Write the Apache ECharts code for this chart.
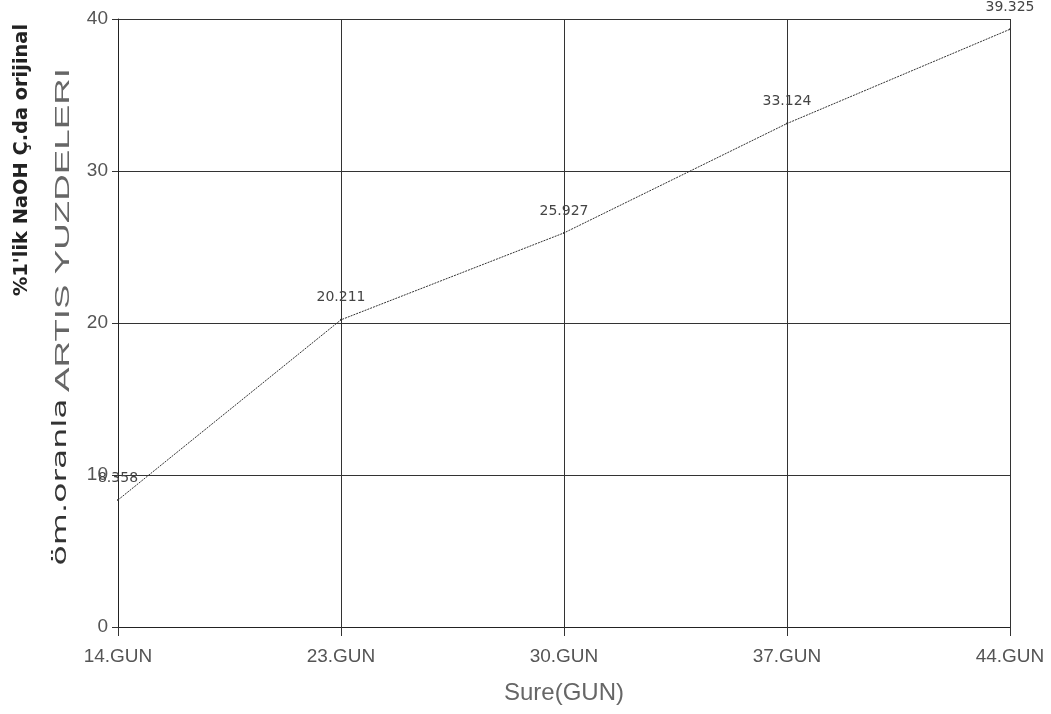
<!DOCTYPE html>
<html>
<head>
<meta charset="utf-8">
<script src="https://cdn.jsdelivr.net/npm/echarts@6/dist/echarts.min.js"></script>
<style>
  html, body { margin: 0; padding: 0; background: #fff; }
  #chart { width: 1051px; height: 714px; }
</style>
</head>
<body>
<div id="chart"></div>
<script>
// Days of treatment and the percentage increase measured on each day
var days = ['14.GUN', '23.GUN', '30.GUN', '37.GUN', '44.GUN'];
var increase = [8.358, 20.211, 25.927, 33.124, 39.325];
var yTicks = [0, 10, 20, 30, 40];

var chart = echarts.init(document.getElementById('chart'), null, { renderer: 'canvas' });

var tickFont = { fontFamily: 'Liberation Sans', fontSize: 19, color: '#555' };

chart.setOption({
  backgroundColor: '#fff',
  animation: false,
  grid: { left: 118, right: 41, top: 19, bottom: 87, containLabel: false },
  xAxis: {
    type: 'category',
    data: days,
    boundaryGap: false,
    axisLine: { show: true, lineStyle: { color: '#222', width: 1 } },
    axisTick: { show: true, length: 9, lineStyle: { color: '#333' } },
    axisLabel: Object.assign({ margin: 20 }, tickFont),
    splitLine: { show: true, lineStyle: { color: '#333', width: 1 } },
    name: 'Sure(GUN)',
    nameLocation: 'middle',
    nameGap: 54,
    nameTextStyle: { fontFamily: 'Liberation Sans', fontSize: 24, color: '#666' }
  },
  yAxis: {
    type: 'value',
    min: yTicks[0],
    max: yTicks[yTicks.length - 1],
    interval: yTicks[1] - yTicks[0],
    axisLine: { show: true, lineStyle: { color: '#222', width: 1 } },
    axisTick: { show: true, length: 6, lineStyle: { color: '#333' } },
    axisLabel: Object.assign({ margin: 10 }, tickFont),
    splitLine: { show: true, lineStyle: { color: '#333', width: 1 } }
  },
  series: [{
    type: 'line',
    data: increase,
    symbol: 'circle',
    symbolSize: 2,
    itemStyle: { color: '#333' },
    lineStyle: { color: '#333', width: 1, type: [2, 1] },
    label: {
      show: true,
      position: 'top',
      distance: 14,
      fontFamily: 'DejaVu Sans',
      fontSize: 14,
      color: '#444',
      formatter: function (p) { return p.value.toFixed(3); }
    }
  }],
  graphic: [
    {
      type: 'text',
      x: 22, y: 160,
      rotation: Math.PI / 2,
      scaleX: 1.02,
      style: {
        text: "%1'lik NaOH Ç.da orijinal",
        font: 'bold 19px "DejaVu Sans"',
        fill: '#222',
        textAlign: 'center',
        textVerticalAlign: 'middle'
      }
    },
    {
      type: 'text',
      x: 61, y: 482,
      rotation: Math.PI / 2,
      scaleX: 1.65,
      style: {
        text: 'öm.oranla',
        font: '20px "DejaVu Sans"',
        fill: '#333',
        textAlign: 'center',
        textVerticalAlign: 'middle'
      }
    },
    {
      type: 'text',
      x: 63, y: 230,
      rotation: Math.PI / 2,
      scaleX: 1.75,
      style: {
        text: 'ARTIS YUZDELERI',
        font: '21px "Liberation Sans"',
        fill: '#666',
        textAlign: 'center',
        textVerticalAlign: 'middle'
      }
    }
  ]
});
</script>
</body>
</html>
